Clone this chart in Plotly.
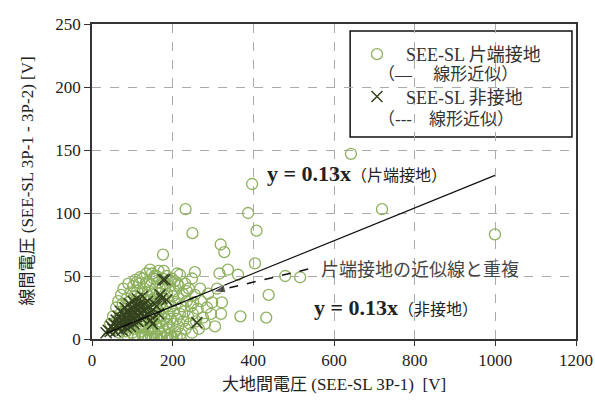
import plotly.graph_objects as go

# ---- data ----
# 片端接地 (one-end grounded): (大地間電圧, 線間電圧)
grounded_x = [642, 397, 232, 387, 719, 999, 249, 408, 319, 328, 404, 337, 362, 316, 255, 248, 479, 516,
              438, 368, 432, 320, 298, 322, 285, 251, 231, 218, 268, 176, 144, 149, 119, 111, 211,
              45, 52, 58, 60, 62, 65, 68, 70, 72, 74, 76, 78, 80, 82, 84, 86, 88, 88, 90, 92, 94, 95, 96, 98,
              100, 100, 102, 104, 105, 106, 108, 108, 110, 112, 112, 114, 115, 116, 118, 118, 120, 121, 122,
              123, 124, 125, 126, 128, 128, 130, 130, 132, 132, 134, 135, 136, 137, 138, 140, 140, 142, 142,
              144, 145, 146, 146, 148, 148, 150, 150, 152, 153, 154, 155, 156, 158, 158, 160, 160, 162, 163,
              164, 165, 166, 168, 168, 170, 170, 172, 174, 175, 176, 178, 180, 180, 182, 184, 185, 186, 188,
              190, 190, 192, 194, 195, 196, 198, 200, 200, 202, 205, 206, 208, 210, 212, 214, 215, 218, 220,
              222, 225, 226, 230, 232, 235, 238, 240, 242, 245, 248, 250, 255, 258, 262, 265, 270, 275, 280,
              288, 295, 305, 310,
              130, 140, 150, 160, 170, 180, 190, 200, 210, 220, 135, 155, 175, 195, 215, 235, 165, 185,
              205, 145, 125, 115, 105, 95, 85, 160, 178, 198]
grounded_y = [147, 123, 103, 100, 103, 83, 84, 86, 75, 69, 60, 55, 51, 52, 53, 48, 50, 49,
              35, 18, 17, 20, 29, 29, 25, 29, 44, 51, 40, 67, 55, 52, 49, 45, 52,
              12, 18, 8, 25, 15, 30, 5, 20, 35, 12, 28, 40, 8, 18, 24, 32, 3, 14, 44, 22, 10, 30, 37, 18,
              5, 26, 42, 14, 34, 20, 8, 47, 28, 16, 38, 2, 24, 32, 11, 44, 20, 28, 6,
              36, 15, 48, 25, 32, 10, 40, 18, 3, 27, 22, 45, 13, 35, 30, 7, 19, 38, 26,
              14, 43, 2, 31, 22, 9, 36, 16, 28, 48, 5, 20, 33, 12, 40, 25, 2, 18, 30,
              8, 45, 22, 14, 36, 4, 28, 18, 40, 10, 24, 32, 6, 16, 44, 26, 12, 36, 3,
              20, 30, 9, 42, 16, 26, 2, 34, 12, 22, 38, 6, 28, 16, 44, 10, 32, 20, 4,
              26, 36, 14, 22, 8, 30, 18, 40, 12, 26, 5, 20, 35, 14, 24, 8, 30, 17, 12,
              36, 20, 10, 40,
              1, 0, 1, 0, 2, 1, 0, 1, 2, 0, 52, 50, 48, 46, 42, 38, 54, 50,
              46, 7, 3, 9, 2, 11, 6, 50, 54, 48]

# 非接地 (ungrounded)
ungrounded_x = [35, 40, 45, 48, 52, 55, 58, 60, 62, 65, 66, 68, 70, 72, 74, 75, 78, 80, 82, 84, 85, 88,
                90, 92, 94, 95, 98, 100, 102, 104, 105, 108, 110, 112, 114, 115, 118, 119, 120, 122, 124,
                125, 128, 130, 132, 135, 138, 140, 142, 145, 148, 150, 155, 160, 165, 169, 173, 176, 181,
                185, 260]
ungrounded_y = [5, 7, 6, 10, 8, 12, 6, 15, 10, 18, 8, 13, 22, 11, 16, 7, 20, 13, 25, 17, 9, 22,
                14, 28, 19, 10, 24, 16, 30, 12, 21, 26, 18, 32, 14, 23, 28, 25, 20, 25, 16,
                34, 22, 28, 18, 24, 30, 20, 26, 15, 22, 12, 28, 26, 20, 35, 32, 47, 47,
                31, 13]

slope_grounded = 0.13
slope_ungrounded = 0.13

x_ticks = [0, 200, 400, 600, 800, 1000, 1200]
y_ticks = [0, 50, 100, 150, 200, 250]

x_title = "大地間電圧 (SEE-SL 3P-1)  [V]"
y_title = "線間電圧 (SEE-SL 3P-1 - 3P-2) [V]"

SERIF = "Liberation Serif, Noto Sans CJK JP, serif"
GREEN = "#8db15d"
DARK = "#34421f"
TXT = "#222"
NB = "\u00a0"

fig = go.Figure()

fig.add_trace(go.Scatter(
    x=grounded_x, y=grounded_y, mode="markers", name=NB * 2 + "SEE-SL 片端接地",
    marker=dict(symbol="circle-open", size=11, color=GREEN, line=dict(width=1.3, color=GREEN)),
    legendgroup="a",
))
fig.add_trace(go.Scatter(
    x=ungrounded_x, y=ungrounded_y, mode="markers", name=NB * 2 + "SEE-SL 非接地",
    marker=dict(symbol="x-thin-open", size=11, color=DARK, line=dict(width=1.5, color=DARK)),
    legendgroup="b",
))

# linear fits
gx = [min(grounded_x), max(grounded_x)]
fig.add_trace(go.Scatter(x=gx, y=[slope_grounded * v for v in gx], mode="lines",
                         line=dict(color="#111", width=1.2), showlegend=False))
ux = [min(ungrounded_x), max(ungrounded_x)]
fig.add_trace(go.Scatter(x=ux, y=[slope_ungrounded * v for v in ux], mode="lines",
                         line=dict(color="#111", width=1.5, dash="dash"), showlegend=False))

# dashed pointer arrow: 片端接地の近似線と重複
arrow_x = [536, 300]
arrow_y = [55.5, 37.5]
fig.add_trace(go.Scatter(x=arrow_x, y=arrow_y, mode="lines+markers",
                         line=dict(color="#111", width=1.5, dash="dash"),
                         marker=dict(symbol=["circle", "arrow"], size=[0, 13], color="#111",
                                     angleref="previous"),
                         showlegend=False))

annotations = [
    dict(x=429, y=131, xref="x", yref="y", xanchor="left", yanchor="middle", showarrow=False,
         text="<b>y = 0.13x</b><span style='font-size:16px'>（片端接地）</span>",
         font=dict(family=SERIF, size=22, color=TXT)),
    dict(x=545, y=25, xref="x", yref="y", xanchor="left", yanchor="middle", showarrow=False,
         text="<b>y = 0.13x</b><span style='font-size:16px'>（非接地）</span>",
         font=dict(family=SERIF, size=22, color=TXT)),
    dict(x=562, y=55, xref="x", yref="y", xanchor="left", yanchor="middle", showarrow=False,
         text="片端接地の近似線と重複",
         font=dict(family=SERIF, size=18, color="#444")),
    dict(x=705, y=210, xref="x", yref="y", xanchor="left", yanchor="middle", showarrow=False,
         text="（—　 線形近似）", font=dict(family=SERIF, size=17, color="#333")),
    dict(x=705, y=174.5, xref="x", yref="y", xanchor="left", yanchor="middle", showarrow=False,
         text="（---　線形近似）", font=dict(family=SERIF, size=17, color="#333")),
    # axis titles
    dict(x=0.5, y=0, xref="paper", yref="paper", xanchor="center", yanchor="middle", yshift=-45,
         showarrow=False, text=x_title, font=dict(family=SERIF, size=17, color=TXT)),
    dict(x=0, y=0.5, xref="paper", yref="paper", xanchor="center", yanchor="middle", xshift=-65,
         textangle=-90, showarrow=False, text=y_title, font=dict(family=SERIF, size=17, color=TXT)),
]

fig.update_layout(
    width=595, height=404,
    margin=dict(l=92, r=19, t=24, b=65),
    paper_bgcolor="white", plot_bgcolor="white",
    font=dict(family=SERIF, size=17, color=TXT),
    showlegend=True,
    legend=dict(x=0.5475, y=0.962, xanchor="left", yanchor="top", bgcolor="rgba(0,0,0,0)",
                borderwidth=0, tracegroupgap=16, font=dict(family=SERIF, size=18, color="#333")),
    shapes=[dict(type="rect", xref="x", yref="y", x0=640, x1=1190, y0=160.3, y1=244.4,
                 line=dict(color="#111", width=1.5), fillcolor="white", layer="below")],
    annotations=annotations,
)

fig.update_xaxes(range=[0, 1200], tickvals=x_ticks, ticks="outside", ticklen=5, tickcolor="#333",
                 showline=True, linecolor="#333", linewidth=1.5, mirror=True, automargin=False,
                 showgrid=True, gridcolor="#aaa", griddash="dash", gridwidth=1, zeroline=False,
                 tickfont=dict(family=SERIF, size=17, color=TXT))
fig.update_yaxes(range=[0, 250], tickvals=y_ticks, ticks="outside", ticklen=6, tickcolor="#333",
                 showline=True, linecolor="#333", linewidth=1.5, mirror=True, automargin=False,
                 showgrid=True, gridcolor="#aaa", griddash="dash", gridwidth=1, zeroline=False,
                 tickfont=dict(family=SERIF, size=17, color=TXT))

# remove the default page margin so the 595x404 figure fills the window exactly
fig.write_html("out.html", config={"displayModeBar": False},
               post_script="document.body.style.margin='0';document.body.style.overflow='hidden';")
